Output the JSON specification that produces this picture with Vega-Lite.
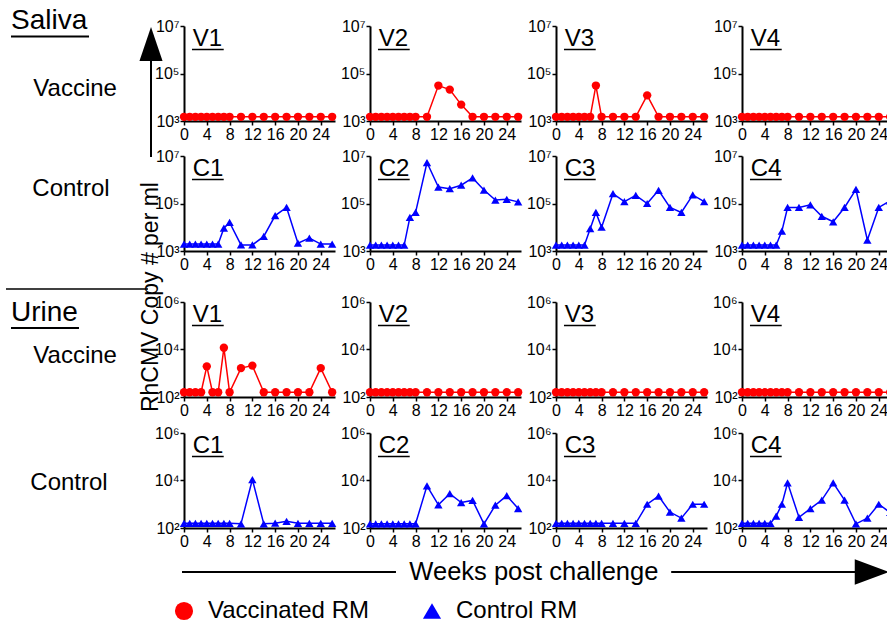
{
"$schema":"https://vega.github.io/schema/vega-lite/v6.json",
"padding":{"left":5,"top":6,"right":0,"bottom":0},
"background":"white",
"datasets":{"d":[
{"p":"SV1","s":"Vaccinated RM","w":0,"v":1500},{"p":"SV1","s":"Vaccinated RM","w":1,"v":1500},{"p":"SV1","s":"Vaccinated RM","w":2,"v":1500},{"p":"SV1","s":"Vaccinated RM","w":3,"v":1500},{"p":"SV1","s":"Vaccinated RM","w":4,"v":1500},{"p":"SV1","s":"Vaccinated RM","w":5,"v":1500},{"p":"SV1","s":"Vaccinated RM","w":6,"v":1500},{"p":"SV1","s":"Vaccinated RM","w":7,"v":1500},{"p":"SV1","s":"Vaccinated RM","w":8,"v":1500},{"p":"SV1","s":"Vaccinated RM","w":10,"v":1500},{"p":"SV1","s":"Vaccinated RM","w":12,"v":1500},{"p":"SV1","s":"Vaccinated RM","w":14,"v":1500},{"p":"SV1","s":"Vaccinated RM","w":16,"v":1500},{"p":"SV1","s":"Vaccinated RM","w":18,"v":1500},{"p":"SV1","s":"Vaccinated RM","w":20,"v":1500},{"p":"SV1","s":"Vaccinated RM","w":22,"v":1500},{"p":"SV1","s":"Vaccinated RM","w":24,"v":1500},{"p":"SV1","s":"Vaccinated RM","w":26,"v":1500},
{"p":"SV2","s":"Vaccinated RM","w":0,"v":1500},{"p":"SV2","s":"Vaccinated RM","w":1,"v":1500},{"p":"SV2","s":"Vaccinated RM","w":2,"v":1500},{"p":"SV2","s":"Vaccinated RM","w":3,"v":1500},{"p":"SV2","s":"Vaccinated RM","w":4,"v":1500},{"p":"SV2","s":"Vaccinated RM","w":5,"v":1500},{"p":"SV2","s":"Vaccinated RM","w":6,"v":1500},{"p":"SV2","s":"Vaccinated RM","w":7,"v":1500},{"p":"SV2","s":"Vaccinated RM","w":8,"v":1500},{"p":"SV2","s":"Vaccinated RM","w":10,"v":1500},{"p":"SV2","s":"Vaccinated RM","w":12,"v":31000},{"p":"SV2","s":"Vaccinated RM","w":14,"v":21000},{"p":"SV2","s":"Vaccinated RM","w":16,"v":4900},{"p":"SV2","s":"Vaccinated RM","w":18,"v":1500},{"p":"SV2","s":"Vaccinated RM","w":20,"v":1500},{"p":"SV2","s":"Vaccinated RM","w":22,"v":1500},{"p":"SV2","s":"Vaccinated RM","w":24,"v":1500},{"p":"SV2","s":"Vaccinated RM","w":26,"v":1500},
{"p":"SV3","s":"Vaccinated RM","w":0,"v":1500},{"p":"SV3","s":"Vaccinated RM","w":1,"v":1500},{"p":"SV3","s":"Vaccinated RM","w":2,"v":1500},{"p":"SV3","s":"Vaccinated RM","w":3,"v":1500},{"p":"SV3","s":"Vaccinated RM","w":4,"v":1500},{"p":"SV3","s":"Vaccinated RM","w":5,"v":1500},{"p":"SV3","s":"Vaccinated RM","w":6,"v":1500},{"p":"SV3","s":"Vaccinated RM","w":7,"v":31000},{"p":"SV3","s":"Vaccinated RM","w":8,"v":1500},{"p":"SV3","s":"Vaccinated RM","w":10,"v":1500},{"p":"SV3","s":"Vaccinated RM","w":12,"v":1500},{"p":"SV3","s":"Vaccinated RM","w":14,"v":1500},{"p":"SV3","s":"Vaccinated RM","w":16,"v":12000},{"p":"SV3","s":"Vaccinated RM","w":18,"v":1500},{"p":"SV3","s":"Vaccinated RM","w":20,"v":1500},{"p":"SV3","s":"Vaccinated RM","w":22,"v":1500},{"p":"SV3","s":"Vaccinated RM","w":24,"v":1500},{"p":"SV3","s":"Vaccinated RM","w":26,"v":1500},
{"p":"SV4","s":"Vaccinated RM","w":0,"v":1500},{"p":"SV4","s":"Vaccinated RM","w":1,"v":1500},{"p":"SV4","s":"Vaccinated RM","w":2,"v":1500},{"p":"SV4","s":"Vaccinated RM","w":3,"v":1500},{"p":"SV4","s":"Vaccinated RM","w":4,"v":1500},{"p":"SV4","s":"Vaccinated RM","w":5,"v":1500},{"p":"SV4","s":"Vaccinated RM","w":6,"v":1500},{"p":"SV4","s":"Vaccinated RM","w":7,"v":1500},{"p":"SV4","s":"Vaccinated RM","w":8,"v":1500},{"p":"SV4","s":"Vaccinated RM","w":10,"v":1500},{"p":"SV4","s":"Vaccinated RM","w":12,"v":1500},{"p":"SV4","s":"Vaccinated RM","w":14,"v":1500},{"p":"SV4","s":"Vaccinated RM","w":16,"v":1500},{"p":"SV4","s":"Vaccinated RM","w":18,"v":1500},{"p":"SV4","s":"Vaccinated RM","w":20,"v":1500},{"p":"SV4","s":"Vaccinated RM","w":22,"v":1500},{"p":"SV4","s":"Vaccinated RM","w":24,"v":1500},{"p":"SV4","s":"Vaccinated RM","w":26,"v":1500},
{"p":"SC1","s":"Control RM","w":0,"v":1950},{"p":"SC1","s":"Control RM","w":1,"v":1950},{"p":"SC1","s":"Control RM","w":2,"v":1950},{"p":"SC1","s":"Control RM","w":3,"v":1950},{"p":"SC1","s":"Control RM","w":4,"v":1950},{"p":"SC1","s":"Control RM","w":5,"v":1950},{"p":"SC1","s":"Control RM","w":6,"v":1950},{"p":"SC1","s":"Control RM","w":7,"v":9100},{"p":"SC1","s":"Control RM","w":8,"v":16000},{"p":"SC1","s":"Control RM","w":10,"v":1800},{"p":"SC1","s":"Control RM","w":12,"v":1800},{"p":"SC1","s":"Control RM","w":14,"v":4100},{"p":"SC1","s":"Control RM","w":16,"v":31000},{"p":"SC1","s":"Control RM","w":18,"v":68000},{"p":"SC1","s":"Control RM","w":20,"v":2150},{"p":"SC1","s":"Control RM","w":22,"v":3500},{"p":"SC1","s":"Control RM","w":24,"v":1950},{"p":"SC1","s":"Control RM","w":26,"v":1950},
{"p":"SC2","s":"Control RM","w":0,"v":1780},{"p":"SC2","s":"Control RM","w":1,"v":1780},{"p":"SC2","s":"Control RM","w":2,"v":1780},{"p":"SC2","s":"Control RM","w":3,"v":1780},{"p":"SC2","s":"Control RM","w":4,"v":1780},{"p":"SC2","s":"Control RM","w":5,"v":1780},{"p":"SC2","s":"Control RM","w":6,"v":1780},{"p":"SC2","s":"Control RM","w":7,"v":26000},{"p":"SC2","s":"Control RM","w":8,"v":42000},{"p":"SC2","s":"Control RM","w":10,"v":5300000},{"p":"SC2","s":"Control RM","w":12,"v":490000},{"p":"SC2","s":"Control RM","w":14,"v":420000},{"p":"SC2","s":"Control RM","w":16,"v":590000},{"p":"SC2","s":"Control RM","w":18,"v":1200000},{"p":"SC2","s":"Control RM","w":20,"v":370000},{"p":"SC2","s":"Control RM","w":22,"v":140000},{"p":"SC2","s":"Control RM","w":24,"v":150000},{"p":"SC2","s":"Control RM","w":26,"v":117000},
{"p":"SC3","s":"Control RM","w":0,"v":1780},{"p":"SC3","s":"Control RM","w":1,"v":1780},{"p":"SC3","s":"Control RM","w":2,"v":1780},{"p":"SC3","s":"Control RM","w":3,"v":1780},{"p":"SC3","s":"Control RM","w":4,"v":1780},{"p":"SC3","s":"Control RM","w":5,"v":1780},{"p":"SC3","s":"Control RM","w":6,"v":8700},{"p":"SC3","s":"Control RM","w":7,"v":42000},{"p":"SC3","s":"Control RM","w":8,"v":10000},{"p":"SC3","s":"Control RM","w":10,"v":260000},{"p":"SC3","s":"Control RM","w":12,"v":120000},{"p":"SC3","s":"Control RM","w":14,"v":220000},{"p":"SC3","s":"Control RM","w":16,"v":100000},{"p":"SC3","s":"Control RM","w":18,"v":360000},{"p":"SC3","s":"Control RM","w":20,"v":68000},{"p":"SC3","s":"Control RM","w":22,"v":42000},{"p":"SC3","s":"Control RM","w":24,"v":230000},{"p":"SC3","s":"Control RM","w":26,"v":120000},
{"p":"SC4","s":"Control RM","w":0,"v":1780},{"p":"SC4","s":"Control RM","w":1,"v":1780},{"p":"SC4","s":"Control RM","w":2,"v":1780},{"p":"SC4","s":"Control RM","w":3,"v":1780},{"p":"SC4","s":"Control RM","w":4,"v":1780},{"p":"SC4","s":"Control RM","w":5,"v":1780},{"p":"SC4","s":"Control RM","w":6,"v":1780},{"p":"SC4","s":"Control RM","w":7,"v":6900},{"p":"SC4","s":"Control RM","w":8,"v":68000},{"p":"SC4","s":"Control RM","w":10,"v":68000},{"p":"SC4","s":"Control RM","w":12,"v":88000},{"p":"SC4","s":"Control RM","w":14,"v":29000},{"p":"SC4","s":"Control RM","w":16,"v":17000},{"p":"SC4","s":"Control RM","w":18,"v":68000},{"p":"SC4","s":"Control RM","w":20,"v":390000},{"p":"SC4","s":"Control RM","w":22,"v":2900},{"p":"SC4","s":"Control RM","w":24,"v":68000},{"p":"SC4","s":"Control RM","w":26,"v":130000},
{"p":"UV1","s":"Vaccinated RM","w":0,"v":158},{"p":"UV1","s":"Vaccinated RM","w":1,"v":158},{"p":"UV1","s":"Vaccinated RM","w":2,"v":158},{"p":"UV1","s":"Vaccinated RM","w":3,"v":158},{"p":"UV1","s":"Vaccinated RM","w":4,"v":1950},{"p":"UV1","s":"Vaccinated RM","w":5,"v":158},{"p":"UV1","s":"Vaccinated RM","w":6,"v":158},{"p":"UV1","s":"Vaccinated RM","w":7,"v":11800},{"p":"UV1","s":"Vaccinated RM","w":8,"v":158},{"p":"UV1","s":"Vaccinated RM","w":10,"v":1650},{"p":"UV1","s":"Vaccinated RM","w":12,"v":2100},{"p":"UV1","s":"Vaccinated RM","w":14,"v":158},{"p":"UV1","s":"Vaccinated RM","w":16,"v":158},{"p":"UV1","s":"Vaccinated RM","w":18,"v":158},{"p":"UV1","s":"Vaccinated RM","w":20,"v":158},{"p":"UV1","s":"Vaccinated RM","w":22,"v":158},{"p":"UV1","s":"Vaccinated RM","w":24,"v":1650},{"p":"UV1","s":"Vaccinated RM","w":26,"v":158},
{"p":"UV2","s":"Vaccinated RM","w":0,"v":158},{"p":"UV2","s":"Vaccinated RM","w":1,"v":158},{"p":"UV2","s":"Vaccinated RM","w":2,"v":158},{"p":"UV2","s":"Vaccinated RM","w":3,"v":158},{"p":"UV2","s":"Vaccinated RM","w":4,"v":158},{"p":"UV2","s":"Vaccinated RM","w":5,"v":158},{"p":"UV2","s":"Vaccinated RM","w":6,"v":158},{"p":"UV2","s":"Vaccinated RM","w":7,"v":158},{"p":"UV2","s":"Vaccinated RM","w":8,"v":158},{"p":"UV2","s":"Vaccinated RM","w":10,"v":158},{"p":"UV2","s":"Vaccinated RM","w":12,"v":158},{"p":"UV2","s":"Vaccinated RM","w":14,"v":158},{"p":"UV2","s":"Vaccinated RM","w":16,"v":158},{"p":"UV2","s":"Vaccinated RM","w":18,"v":158},{"p":"UV2","s":"Vaccinated RM","w":20,"v":158},{"p":"UV2","s":"Vaccinated RM","w":22,"v":158},{"p":"UV2","s":"Vaccinated RM","w":24,"v":158},{"p":"UV2","s":"Vaccinated RM","w":26,"v":158},
{"p":"UV3","s":"Vaccinated RM","w":0,"v":158},{"p":"UV3","s":"Vaccinated RM","w":1,"v":158},{"p":"UV3","s":"Vaccinated RM","w":2,"v":158},{"p":"UV3","s":"Vaccinated RM","w":3,"v":158},{"p":"UV3","s":"Vaccinated RM","w":4,"v":158},{"p":"UV3","s":"Vaccinated RM","w":5,"v":158},{"p":"UV3","s":"Vaccinated RM","w":6,"v":158},{"p":"UV3","s":"Vaccinated RM","w":7,"v":158},{"p":"UV3","s":"Vaccinated RM","w":8,"v":158},{"p":"UV3","s":"Vaccinated RM","w":10,"v":158},{"p":"UV3","s":"Vaccinated RM","w":12,"v":158},{"p":"UV3","s":"Vaccinated RM","w":14,"v":158},{"p":"UV3","s":"Vaccinated RM","w":16,"v":158},{"p":"UV3","s":"Vaccinated RM","w":18,"v":158},{"p":"UV3","s":"Vaccinated RM","w":20,"v":158},{"p":"UV3","s":"Vaccinated RM","w":22,"v":158},{"p":"UV3","s":"Vaccinated RM","w":24,"v":158},{"p":"UV3","s":"Vaccinated RM","w":26,"v":158},
{"p":"UV4","s":"Vaccinated RM","w":0,"v":158},{"p":"UV4","s":"Vaccinated RM","w":1,"v":158},{"p":"UV4","s":"Vaccinated RM","w":2,"v":158},{"p":"UV4","s":"Vaccinated RM","w":3,"v":158},{"p":"UV4","s":"Vaccinated RM","w":4,"v":158},{"p":"UV4","s":"Vaccinated RM","w":5,"v":158},{"p":"UV4","s":"Vaccinated RM","w":6,"v":158},{"p":"UV4","s":"Vaccinated RM","w":7,"v":158},{"p":"UV4","s":"Vaccinated RM","w":8,"v":158},{"p":"UV4","s":"Vaccinated RM","w":10,"v":158},{"p":"UV4","s":"Vaccinated RM","w":12,"v":158},{"p":"UV4","s":"Vaccinated RM","w":14,"v":158},{"p":"UV4","s":"Vaccinated RM","w":16,"v":158},{"p":"UV4","s":"Vaccinated RM","w":18,"v":158},{"p":"UV4","s":"Vaccinated RM","w":20,"v":158},{"p":"UV4","s":"Vaccinated RM","w":22,"v":158},{"p":"UV4","s":"Vaccinated RM","w":24,"v":158},{"p":"UV4","s":"Vaccinated RM","w":26,"v":158},
{"p":"UC1","s":"Control RM","w":0,"v":158},{"p":"UC1","s":"Control RM","w":1,"v":158},{"p":"UC1","s":"Control RM","w":2,"v":158},{"p":"UC1","s":"Control RM","w":3,"v":158},{"p":"UC1","s":"Control RM","w":4,"v":158},{"p":"UC1","s":"Control RM","w":5,"v":158},{"p":"UC1","s":"Control RM","w":6,"v":158},{"p":"UC1","s":"Control RM","w":7,"v":158},{"p":"UC1","s":"Control RM","w":8,"v":158},{"p":"UC1","s":"Control RM","w":10,"v":150},{"p":"UC1","s":"Control RM","w":12,"v":11000},{"p":"UC1","s":"Control RM","w":14,"v":150},{"p":"UC1","s":"Control RM","w":16,"v":160},{"p":"UC1","s":"Control RM","w":18,"v":190},{"p":"UC1","s":"Control RM","w":20,"v":158},{"p":"UC1","s":"Control RM","w":22,"v":158},{"p":"UC1","s":"Control RM","w":24,"v":158},{"p":"UC1","s":"Control RM","w":26,"v":158},
{"p":"UC2","s":"Control RM","w":0,"v":150},{"p":"UC2","s":"Control RM","w":1,"v":150},{"p":"UC2","s":"Control RM","w":2,"v":150},{"p":"UC2","s":"Control RM","w":3,"v":150},{"p":"UC2","s":"Control RM","w":4,"v":150},{"p":"UC2","s":"Control RM","w":5,"v":150},{"p":"UC2","s":"Control RM","w":6,"v":150},{"p":"UC2","s":"Control RM","w":7,"v":150},{"p":"UC2","s":"Control RM","w":8,"v":150},{"p":"UC2","s":"Control RM","w":10,"v":6000},{"p":"UC2","s":"Control RM","w":12,"v":940},{"p":"UC2","s":"Control RM","w":14,"v":2800},{"p":"UC2","s":"Control RM","w":16,"v":1180},{"p":"UC2","s":"Control RM","w":18,"v":1450},{"p":"UC2","s":"Control RM","w":20,"v":150},{"p":"UC2","s":"Control RM","w":22,"v":910},{"p":"UC2","s":"Control RM","w":24,"v":2300},{"p":"UC2","s":"Control RM","w":26,"v":660},
{"p":"UC3","s":"Control RM","w":0,"v":158},{"p":"UC3","s":"Control RM","w":1,"v":158},{"p":"UC3","s":"Control RM","w":2,"v":158},{"p":"UC3","s":"Control RM","w":3,"v":158},{"p":"UC3","s":"Control RM","w":4,"v":158},{"p":"UC3","s":"Control RM","w":5,"v":158},{"p":"UC3","s":"Control RM","w":6,"v":158},{"p":"UC3","s":"Control RM","w":7,"v":158},{"p":"UC3","s":"Control RM","w":8,"v":158},{"p":"UC3","s":"Control RM","w":10,"v":158},{"p":"UC3","s":"Control RM","w":12,"v":158},{"p":"UC3","s":"Control RM","w":14,"v":158},{"p":"UC3","s":"Control RM","w":16,"v":1000},{"p":"UC3","s":"Control RM","w":18,"v":2200},{"p":"UC3","s":"Control RM","w":20,"v":470},{"p":"UC3","s":"Control RM","w":22,"v":260},{"p":"UC3","s":"Control RM","w":24,"v":1000},{"p":"UC3","s":"Control RM","w":26,"v":1000},
{"p":"UC4","s":"Control RM","w":0,"v":158},{"p":"UC4","s":"Control RM","w":1,"v":158},{"p":"UC4","s":"Control RM","w":2,"v":158},{"p":"UC4","s":"Control RM","w":3,"v":158},{"p":"UC4","s":"Control RM","w":4,"v":158},{"p":"UC4","s":"Control RM","w":5,"v":158},{"p":"UC4","s":"Control RM","w":6,"v":320},{"p":"UC4","s":"Control RM","w":7,"v":1000},{"p":"UC4","s":"Control RM","w":8,"v":8000},{"p":"UC4","s":"Control RM","w":10,"v":280},{"p":"UC4","s":"Control RM","w":12,"v":650},{"p":"UC4","s":"Control RM","w":14,"v":1500},{"p":"UC4","s":"Control RM","w":16,"v":8000},{"p":"UC4","s":"Control RM","w":18,"v":1500},{"p":"UC4","s":"Control RM","w":20,"v":150},{"p":"UC4","s":"Control RM","w":22,"v":260},{"p":"UC4","s":"Control RM","w":24,"v":1000},{"p":"UC4","s":"Control RM","w":26,"v":450}
]},
"columns":4,
"spacing":{"row":35,"column":35},
"bounds":"flush",
"concat":[
{"width":151,"height":95,
 "layer":[
  {"data":{"name":"d"},"transform":[{"filter":"datum.p=='SV1'"}],"mark":{"type":"line","strokeWidth":1.5},"encoding":{"x":{"field":"w","type":"quantitative","title":null,"scale":{"domain":[0,26.5],"nice":false,"zero":false},"axis":{"values":[0,4,8,12,16,20,24],"tickCount":20,"labelOverlap":false}},"y":{"field":"v","type":"quantitative","title":null,"scale":{"type":"log","domain":[1000,10000000],"nice":false},"axis":{"values":[1000,100000,10000000],"tickCount":20,"labelOverlap":false,"labelExpr":"datum.value<5000?'10³':datum.value<5000000?'10⁵':'10⁷'"}},"color":{"field":"s","type":"nominal","title":null,"scale":{"domain":["Vaccinated RM","Control RM"],"range":["#ff0000","#0000ff"]}}}},
  {"data":{"name":"d"},"transform":[{"filter":"datum.p=='SV1'"}],"mark":{"type":"point","filled":true,"size":70,"opacity":1},"encoding":{"x":{"field":"w","type":"quantitative","title":null,"scale":{"domain":[0,26.5],"nice":false,"zero":false},"axis":{"values":[0,4,8,12,16,20,24],"tickCount":20,"labelOverlap":false}},"y":{"field":"v","type":"quantitative","title":null,"scale":{"type":"log","domain":[1000,10000000],"nice":false},"axis":{"values":[1000,100000,10000000],"tickCount":20,"labelOverlap":false,"labelExpr":"datum.value<5000?'10³':datum.value<5000000?'10⁵':'10⁷'"}},"color":{"field":"s","type":"nominal","title":null,"scale":{"domain":["Vaccinated RM","Control RM"],"range":["#ff0000","#0000ff"]}},"shape":{"field":"s","type":"nominal","title":null,"scale":{"domain":["Vaccinated RM","Control RM"],"range":["circle","triangle-up"]}}}},
  {"data":{"values":[{"a":1}]},"mark":{"type":"text","text":"V1","fontSize":24,"align":"left","baseline":"alphabetic"},"encoding":{"x":{"datum":1.53},"y":{"datum":1440000}}},
  {"data":{"values":[{"a":1}]},"mark":{"type":"rule","strokeWidth":1.5},"encoding":{"x":{"datum":1.4},"x2":{"datum":6.97},"y":{"datum":1020000}}},
  {"data":{"values":[{"a":1}]},"mark":{"type":"text","text":"Saliva","fontSize":28,"align":"left","baseline":"alphabetic"},"encoding":{"x":{"datum":-30.36},"y":{"datum":7480000}}},
  {"data":{"values":[{"a":1}]},"mark":{"type":"rule","strokeWidth":2},"encoding":{"x":{"datum":-30.36},"x2":{"datum":-16.67},"y":{"datum":3610000}}},
  {"data":{"values":[{"a":1}]},"mark":{"type":"text","text":"Vaccine","fontSize":24,"align":"center","baseline":"middle"},"encoding":{"x":{"datum":-19.1},"y":{"datum":22200}}},
  {"data":{"values":[{"a":1}]},"mark":{"type":"point","shape":"M0,-1L0.68,1L-0.68,1Z","filled":true,"color":"#000","opacity":1,"size":1156},"encoding":{"x":{"datum":-5.79},"y":{"datum":1750000}}},
  {"data":{"values":[{"a":1}]},"mark":{"type":"rule","strokeWidth":2},"encoding":{"x":{"datum":-5.79},"y":{"datum":495000},"y2":{"datum":30.5}}}
 ]},
{"width":151,"height":95,
 "layer":[
  {"data":{"name":"d"},"transform":[{"filter":"datum.p=='SV2'"}],"mark":{"type":"line","strokeWidth":1.5},"encoding":{"x":{"field":"w","type":"quantitative","title":null,"scale":{"domain":[0,26.5],"nice":false,"zero":false},"axis":{"values":[0,4,8,12,16,20,24],"tickCount":20,"labelOverlap":false}},"y":{"field":"v","type":"quantitative","title":null,"scale":{"type":"log","domain":[1000,10000000],"nice":false},"axis":{"values":[1000,100000,10000000],"tickCount":20,"labelOverlap":false,"labelExpr":"datum.value<5000?'10³':datum.value<5000000?'10⁵':'10⁷'"}},"color":{"field":"s","type":"nominal","title":null,"scale":{"domain":["Vaccinated RM","Control RM"],"range":["#ff0000","#0000ff"]}}}},
  {"data":{"name":"d"},"transform":[{"filter":"datum.p=='SV2'"}],"mark":{"type":"point","filled":true,"size":70,"opacity":1},"encoding":{"x":{"field":"w","type":"quantitative","title":null,"scale":{"domain":[0,26.5],"nice":false,"zero":false},"axis":{"values":[0,4,8,12,16,20,24],"tickCount":20,"labelOverlap":false}},"y":{"field":"v","type":"quantitative","title":null,"scale":{"type":"log","domain":[1000,10000000],"nice":false},"axis":{"values":[1000,100000,10000000],"tickCount":20,"labelOverlap":false,"labelExpr":"datum.value<5000?'10³':datum.value<5000000?'10⁵':'10⁷'"}},"color":{"field":"s","type":"nominal","title":null,"scale":{"domain":["Vaccinated RM","Control RM"],"range":["#ff0000","#0000ff"]}},"shape":{"field":"s","type":"nominal","title":null,"scale":{"domain":["Vaccinated RM","Control RM"],"range":["circle","triangle-up"]}}}},
  {"data":{"values":[{"a":1}]},"mark":{"type":"text","text":"V2","fontSize":24,"align":"left","baseline":"alphabetic"},"encoding":{"x":{"datum":1.53},"y":{"datum":1440000}}},
  {"data":{"values":[{"a":1}]},"mark":{"type":"rule","strokeWidth":1.5},"encoding":{"x":{"datum":1.4},"x2":{"datum":6.97},"y":{"datum":1020000}}}
 ]},
{"width":151,"height":95,
 "layer":[
  {"data":{"name":"d"},"transform":[{"filter":"datum.p=='SV3'"}],"mark":{"type":"line","strokeWidth":1.5},"encoding":{"x":{"field":"w","type":"quantitative","title":null,"scale":{"domain":[0,26.5],"nice":false,"zero":false},"axis":{"values":[0,4,8,12,16,20,24],"tickCount":20,"labelOverlap":false}},"y":{"field":"v","type":"quantitative","title":null,"scale":{"type":"log","domain":[1000,10000000],"nice":false},"axis":{"values":[1000,100000,10000000],"tickCount":20,"labelOverlap":false,"labelExpr":"datum.value<5000?'10³':datum.value<5000000?'10⁵':'10⁷'"}},"color":{"field":"s","type":"nominal","title":null,"scale":{"domain":["Vaccinated RM","Control RM"],"range":["#ff0000","#0000ff"]}}}},
  {"data":{"name":"d"},"transform":[{"filter":"datum.p=='SV3'"}],"mark":{"type":"point","filled":true,"size":70,"opacity":1},"encoding":{"x":{"field":"w","type":"quantitative","title":null,"scale":{"domain":[0,26.5],"nice":false,"zero":false},"axis":{"values":[0,4,8,12,16,20,24],"tickCount":20,"labelOverlap":false}},"y":{"field":"v","type":"quantitative","title":null,"scale":{"type":"log","domain":[1000,10000000],"nice":false},"axis":{"values":[1000,100000,10000000],"tickCount":20,"labelOverlap":false,"labelExpr":"datum.value<5000?'10³':datum.value<5000000?'10⁵':'10⁷'"}},"color":{"field":"s","type":"nominal","title":null,"scale":{"domain":["Vaccinated RM","Control RM"],"range":["#ff0000","#0000ff"]}},"shape":{"field":"s","type":"nominal","title":null,"scale":{"domain":["Vaccinated RM","Control RM"],"range":["circle","triangle-up"]}}}},
  {"data":{"values":[{"a":1}]},"mark":{"type":"text","text":"V3","fontSize":24,"align":"left","baseline":"alphabetic"},"encoding":{"x":{"datum":1.53},"y":{"datum":1440000}}},
  {"data":{"values":[{"a":1}]},"mark":{"type":"rule","strokeWidth":1.5},"encoding":{"x":{"datum":1.4},"x2":{"datum":6.97},"y":{"datum":1020000}}}
 ]},
{"width":151,"height":95,
 "layer":[
  {"data":{"name":"d"},"transform":[{"filter":"datum.p=='SV4'"}],"mark":{"type":"line","strokeWidth":1.5},"encoding":{"x":{"field":"w","type":"quantitative","title":null,"scale":{"domain":[0,26.5],"nice":false,"zero":false},"axis":{"values":[0,4,8,12,16,20,24],"tickCount":20,"labelOverlap":false}},"y":{"field":"v","type":"quantitative","title":null,"scale":{"type":"log","domain":[1000,10000000],"nice":false},"axis":{"values":[1000,100000,10000000],"tickCount":20,"labelOverlap":false,"labelExpr":"datum.value<5000?'10³':datum.value<5000000?'10⁵':'10⁷'"}},"color":{"field":"s","type":"nominal","title":null,"scale":{"domain":["Vaccinated RM","Control RM"],"range":["#ff0000","#0000ff"]}}}},
  {"data":{"name":"d"},"transform":[{"filter":"datum.p=='SV4'"}],"mark":{"type":"point","filled":true,"size":70,"opacity":1},"encoding":{"x":{"field":"w","type":"quantitative","title":null,"scale":{"domain":[0,26.5],"nice":false,"zero":false},"axis":{"values":[0,4,8,12,16,20,24],"tickCount":20,"labelOverlap":false}},"y":{"field":"v","type":"quantitative","title":null,"scale":{"type":"log","domain":[1000,10000000],"nice":false},"axis":{"values":[1000,100000,10000000],"tickCount":20,"labelOverlap":false,"labelExpr":"datum.value<5000?'10³':datum.value<5000000?'10⁵':'10⁷'"}},"color":{"field":"s","type":"nominal","title":null,"scale":{"domain":["Vaccinated RM","Control RM"],"range":["#ff0000","#0000ff"]}},"shape":{"field":"s","type":"nominal","title":null,"scale":{"domain":["Vaccinated RM","Control RM"],"range":["circle","triangle-up"]}}}},
  {"data":{"values":[{"a":1}]},"mark":{"type":"text","text":"V4","fontSize":24,"align":"left","baseline":"alphabetic"},"encoding":{"x":{"datum":1.53},"y":{"datum":1440000}}},
  {"data":{"values":[{"a":1}]},"mark":{"type":"rule","strokeWidth":1.5},"encoding":{"x":{"datum":1.4},"x2":{"datum":6.97},"y":{"datum":1020000}}}
 ]},
{"width":151,"height":95,
 "layer":[
  {"data":{"name":"d"},"transform":[{"filter":"datum.p=='SC1'"}],"mark":{"type":"line","strokeWidth":1.5},"encoding":{"x":{"field":"w","type":"quantitative","title":null,"scale":{"domain":[0,26.5],"nice":false,"zero":false},"axis":{"values":[0,4,8,12,16,20,24],"tickCount":20,"labelOverlap":false}},"y":{"field":"v","type":"quantitative","title":null,"scale":{"type":"log","domain":[1000,10000000],"nice":false},"axis":{"values":[1000,100000,10000000],"tickCount":20,"labelOverlap":false,"labelExpr":"datum.value<5000?'10³':datum.value<5000000?'10⁵':'10⁷'"}},"color":{"field":"s","type":"nominal","title":null,"scale":{"domain":["Vaccinated RM","Control RM"],"range":["#ff0000","#0000ff"]}}}},
  {"data":{"name":"d"},"transform":[{"filter":"datum.p=='SC1'"}],"mark":{"type":"point","filled":true,"size":70,"opacity":1},"encoding":{"x":{"field":"w","type":"quantitative","title":null,"scale":{"domain":[0,26.5],"nice":false,"zero":false},"axis":{"values":[0,4,8,12,16,20,24],"tickCount":20,"labelOverlap":false}},"y":{"field":"v","type":"quantitative","title":null,"scale":{"type":"log","domain":[1000,10000000],"nice":false},"axis":{"values":[1000,100000,10000000],"tickCount":20,"labelOverlap":false,"labelExpr":"datum.value<5000?'10³':datum.value<5000000?'10⁵':'10⁷'"}},"color":{"field":"s","type":"nominal","title":null,"scale":{"domain":["Vaccinated RM","Control RM"],"range":["#ff0000","#0000ff"]}},"shape":{"field":"s","type":"nominal","title":null,"scale":{"domain":["Vaccinated RM","Control RM"],"range":["circle","triangle-up"]}}}},
  {"data":{"values":[{"a":1}]},"mark":{"type":"text","text":"C1","fontSize":24,"align":"left","baseline":"alphabetic"},"encoding":{"x":{"datum":1.53},"y":{"datum":1440000}}},
  {"data":{"values":[{"a":1}]},"mark":{"type":"rule","strokeWidth":1.5},"encoding":{"x":{"datum":1.4},"x2":{"datum":6.97},"y":{"datum":1020000}}},
  {"data":{"values":[{"a":1}]},"mark":{"type":"text","text":"Control","fontSize":24,"align":"center","baseline":"middle"},"encoding":{"x":{"datum":-19.83},"y":{"datum":408000}}},
  {"data":{"values":[{"a":1}]},"mark":{"type":"text","text":"RhCMV Copy # per ml","fontSize":23,"align":"center","baseline":"middle","angle":270},"encoding":{"x":{"datum":-5.79},"y":{"datum":11.5}}}
 ]},
{"width":151,"height":95,
 "layer":[
  {"data":{"name":"d"},"transform":[{"filter":"datum.p=='SC2'"}],"mark":{"type":"line","strokeWidth":1.5},"encoding":{"x":{"field":"w","type":"quantitative","title":null,"scale":{"domain":[0,26.5],"nice":false,"zero":false},"axis":{"values":[0,4,8,12,16,20,24],"tickCount":20,"labelOverlap":false}},"y":{"field":"v","type":"quantitative","title":null,"scale":{"type":"log","domain":[1000,10000000],"nice":false},"axis":{"values":[1000,100000,10000000],"tickCount":20,"labelOverlap":false,"labelExpr":"datum.value<5000?'10³':datum.value<5000000?'10⁵':'10⁷'"}},"color":{"field":"s","type":"nominal","title":null,"scale":{"domain":["Vaccinated RM","Control RM"],"range":["#ff0000","#0000ff"]}}}},
  {"data":{"name":"d"},"transform":[{"filter":"datum.p=='SC2'"}],"mark":{"type":"point","filled":true,"size":70,"opacity":1},"encoding":{"x":{"field":"w","type":"quantitative","title":null,"scale":{"domain":[0,26.5],"nice":false,"zero":false},"axis":{"values":[0,4,8,12,16,20,24],"tickCount":20,"labelOverlap":false}},"y":{"field":"v","type":"quantitative","title":null,"scale":{"type":"log","domain":[1000,10000000],"nice":false},"axis":{"values":[1000,100000,10000000],"tickCount":20,"labelOverlap":false,"labelExpr":"datum.value<5000?'10³':datum.value<5000000?'10⁵':'10⁷'"}},"color":{"field":"s","type":"nominal","title":null,"scale":{"domain":["Vaccinated RM","Control RM"],"range":["#ff0000","#0000ff"]}},"shape":{"field":"s","type":"nominal","title":null,"scale":{"domain":["Vaccinated RM","Control RM"],"range":["circle","triangle-up"]}}}},
  {"data":{"values":[{"a":1}]},"mark":{"type":"text","text":"C2","fontSize":24,"align":"left","baseline":"alphabetic"},"encoding":{"x":{"datum":1.53},"y":{"datum":1440000}}},
  {"data":{"values":[{"a":1}]},"mark":{"type":"rule","strokeWidth":1.5},"encoding":{"x":{"datum":1.4},"x2":{"datum":6.97},"y":{"datum":1020000}}}
 ]},
{"width":151,"height":95,
 "layer":[
  {"data":{"name":"d"},"transform":[{"filter":"datum.p=='SC3'"}],"mark":{"type":"line","strokeWidth":1.5},"encoding":{"x":{"field":"w","type":"quantitative","title":null,"scale":{"domain":[0,26.5],"nice":false,"zero":false},"axis":{"values":[0,4,8,12,16,20,24],"tickCount":20,"labelOverlap":false}},"y":{"field":"v","type":"quantitative","title":null,"scale":{"type":"log","domain":[1000,10000000],"nice":false},"axis":{"values":[1000,100000,10000000],"tickCount":20,"labelOverlap":false,"labelExpr":"datum.value<5000?'10³':datum.value<5000000?'10⁵':'10⁷'"}},"color":{"field":"s","type":"nominal","title":null,"scale":{"domain":["Vaccinated RM","Control RM"],"range":["#ff0000","#0000ff"]}}}},
  {"data":{"name":"d"},"transform":[{"filter":"datum.p=='SC3'"}],"mark":{"type":"point","filled":true,"size":70,"opacity":1},"encoding":{"x":{"field":"w","type":"quantitative","title":null,"scale":{"domain":[0,26.5],"nice":false,"zero":false},"axis":{"values":[0,4,8,12,16,20,24],"tickCount":20,"labelOverlap":false}},"y":{"field":"v","type":"quantitative","title":null,"scale":{"type":"log","domain":[1000,10000000],"nice":false},"axis":{"values":[1000,100000,10000000],"tickCount":20,"labelOverlap":false,"labelExpr":"datum.value<5000?'10³':datum.value<5000000?'10⁵':'10⁷'"}},"color":{"field":"s","type":"nominal","title":null,"scale":{"domain":["Vaccinated RM","Control RM"],"range":["#ff0000","#0000ff"]}},"shape":{"field":"s","type":"nominal","title":null,"scale":{"domain":["Vaccinated RM","Control RM"],"range":["circle","triangle-up"]}}}},
  {"data":{"values":[{"a":1}]},"mark":{"type":"text","text":"C3","fontSize":24,"align":"left","baseline":"alphabetic"},"encoding":{"x":{"datum":1.53},"y":{"datum":1440000}}},
  {"data":{"values":[{"a":1}]},"mark":{"type":"rule","strokeWidth":1.5},"encoding":{"x":{"datum":1.4},"x2":{"datum":6.97},"y":{"datum":1020000}}}
 ]},
{"width":151,"height":95,
 "layer":[
  {"data":{"name":"d"},"transform":[{"filter":"datum.p=='SC4'"}],"mark":{"type":"line","strokeWidth":1.5},"encoding":{"x":{"field":"w","type":"quantitative","title":null,"scale":{"domain":[0,26.5],"nice":false,"zero":false},"axis":{"values":[0,4,8,12,16,20,24],"tickCount":20,"labelOverlap":false}},"y":{"field":"v","type":"quantitative","title":null,"scale":{"type":"log","domain":[1000,10000000],"nice":false},"axis":{"values":[1000,100000,10000000],"tickCount":20,"labelOverlap":false,"labelExpr":"datum.value<5000?'10³':datum.value<5000000?'10⁵':'10⁷'"}},"color":{"field":"s","type":"nominal","title":null,"scale":{"domain":["Vaccinated RM","Control RM"],"range":["#ff0000","#0000ff"]}}}},
  {"data":{"name":"d"},"transform":[{"filter":"datum.p=='SC4'"}],"mark":{"type":"point","filled":true,"size":70,"opacity":1},"encoding":{"x":{"field":"w","type":"quantitative","title":null,"scale":{"domain":[0,26.5],"nice":false,"zero":false},"axis":{"values":[0,4,8,12,16,20,24],"tickCount":20,"labelOverlap":false}},"y":{"field":"v","type":"quantitative","title":null,"scale":{"type":"log","domain":[1000,10000000],"nice":false},"axis":{"values":[1000,100000,10000000],"tickCount":20,"labelOverlap":false,"labelExpr":"datum.value<5000?'10³':datum.value<5000000?'10⁵':'10⁷'"}},"color":{"field":"s","type":"nominal","title":null,"scale":{"domain":["Vaccinated RM","Control RM"],"range":["#ff0000","#0000ff"]}},"shape":{"field":"s","type":"nominal","title":null,"scale":{"domain":["Vaccinated RM","Control RM"],"range":["circle","triangle-up"]}}}},
  {"data":{"values":[{"a":1}]},"mark":{"type":"text","text":"C4","fontSize":24,"align":"left","baseline":"alphabetic"},"encoding":{"x":{"datum":1.53},"y":{"datum":1440000}}},
  {"data":{"values":[{"a":1}]},"mark":{"type":"rule","strokeWidth":1.5},"encoding":{"x":{"datum":1.4},"x2":{"datum":6.97},"y":{"datum":1020000}}}
 ]},
{"width":151,"height":111,
 "layer":[
  {"data":{"name":"d"},"transform":[{"filter":"datum.p=='UV1'"}],"mark":{"type":"line","strokeWidth":1.5},"encoding":{"x":{"field":"w","type":"quantitative","title":null,"scale":{"domain":[0,26.5],"nice":false,"zero":false},"axis":{"values":[0,4,8,12,16,20,24],"tickCount":20,"labelOverlap":false}},"y":{"field":"v","type":"quantitative","title":null,"scale":{"type":"log","domain":[100,1000000],"nice":false,"range":[111,16]},"axis":{"values":[100,10000,1000000],"tickCount":20,"labelOverlap":false,"labelExpr":"datum.value<500?'10²':datum.value<500000?'10⁴':'10⁶'"}},"color":{"field":"s","type":"nominal","title":null,"scale":{"domain":["Vaccinated RM","Control RM"],"range":["#ff0000","#0000ff"]}}}},
  {"data":{"name":"d"},"transform":[{"filter":"datum.p=='UV1'"}],"mark":{"type":"point","filled":true,"size":70,"opacity":1},"encoding":{"x":{"field":"w","type":"quantitative","title":null,"scale":{"domain":[0,26.5],"nice":false,"zero":false},"axis":{"values":[0,4,8,12,16,20,24],"tickCount":20,"labelOverlap":false}},"y":{"field":"v","type":"quantitative","title":null,"scale":{"type":"log","domain":[100,1000000],"nice":false,"range":[111,16]},"axis":{"values":[100,10000,1000000],"tickCount":20,"labelOverlap":false,"labelExpr":"datum.value<500?'10²':datum.value<500000?'10⁴':'10⁶'"}},"color":{"field":"s","type":"nominal","title":null,"scale":{"domain":["Vaccinated RM","Control RM"],"range":["#ff0000","#0000ff"]}},"shape":{"field":"s","type":"nominal","title":null,"scale":{"domain":["Vaccinated RM","Control RM"],"range":["circle","triangle-up"]}}}},
  {"data":{"values":[{"a":1}]},"mark":{"type":"text","text":"V1","fontSize":24,"align":"left","baseline":"alphabetic"},"encoding":{"x":{"datum":1.53},"y":{"datum":144000}}},
  {"data":{"values":[{"a":1}]},"mark":{"type":"rule","strokeWidth":1.5},"encoding":{"x":{"datum":1.4},"x2":{"datum":6.97},"y":{"datum":102000}}},
  {"data":{"values":[{"a":1}]},"mark":{"type":"rule","strokeWidth":1.5},"encoding":{"x":{"datum":-31.24},"x2":{"datum":-6.32},"y":{"datum":3530000}}},
  {"data":{"values":[{"a":1}]},"mark":{"type":"text","text":"Urine","fontSize":28,"align":"left","baseline":"alphabetic"},"encoding":{"x":{"datum":-30.36},"y":{"datum":158500}}},
  {"data":{"values":[{"a":1}]},"mark":{"type":"rule","strokeWidth":2},"encoding":{"x":{"datum":-30.36},"x2":{"datum":-18.43},"y":{"datum":80400}}},
  {"data":{"values":[{"a":1}]},"mark":{"type":"text","text":"Vaccine","fontSize":24,"align":"center","baseline":"middle"},"encoding":{"x":{"datum":-19.1},"y":{"datum":5320}}}
 ]},
{"width":151,"height":111,
 "layer":[
  {"data":{"name":"d"},"transform":[{"filter":"datum.p=='UV2'"}],"mark":{"type":"line","strokeWidth":1.5},"encoding":{"x":{"field":"w","type":"quantitative","title":null,"scale":{"domain":[0,26.5],"nice":false,"zero":false},"axis":{"values":[0,4,8,12,16,20,24],"tickCount":20,"labelOverlap":false}},"y":{"field":"v","type":"quantitative","title":null,"scale":{"type":"log","domain":[100,1000000],"nice":false,"range":[111,16]},"axis":{"values":[100,10000,1000000],"tickCount":20,"labelOverlap":false,"labelExpr":"datum.value<500?'10²':datum.value<500000?'10⁴':'10⁶'"}},"color":{"field":"s","type":"nominal","title":null,"scale":{"domain":["Vaccinated RM","Control RM"],"range":["#ff0000","#0000ff"]}}}},
  {"data":{"name":"d"},"transform":[{"filter":"datum.p=='UV2'"}],"mark":{"type":"point","filled":true,"size":70,"opacity":1},"encoding":{"x":{"field":"w","type":"quantitative","title":null,"scale":{"domain":[0,26.5],"nice":false,"zero":false},"axis":{"values":[0,4,8,12,16,20,24],"tickCount":20,"labelOverlap":false}},"y":{"field":"v","type":"quantitative","title":null,"scale":{"type":"log","domain":[100,1000000],"nice":false,"range":[111,16]},"axis":{"values":[100,10000,1000000],"tickCount":20,"labelOverlap":false,"labelExpr":"datum.value<500?'10²':datum.value<500000?'10⁴':'10⁶'"}},"color":{"field":"s","type":"nominal","title":null,"scale":{"domain":["Vaccinated RM","Control RM"],"range":["#ff0000","#0000ff"]}},"shape":{"field":"s","type":"nominal","title":null,"scale":{"domain":["Vaccinated RM","Control RM"],"range":["circle","triangle-up"]}}}},
  {"data":{"values":[{"a":1}]},"mark":{"type":"text","text":"V2","fontSize":24,"align":"left","baseline":"alphabetic"},"encoding":{"x":{"datum":1.53},"y":{"datum":144000}}},
  {"data":{"values":[{"a":1}]},"mark":{"type":"rule","strokeWidth":1.5},"encoding":{"x":{"datum":1.4},"x2":{"datum":6.97},"y":{"datum":102000}}}
 ]},
{"width":151,"height":111,
 "layer":[
  {"data":{"name":"d"},"transform":[{"filter":"datum.p=='UV3'"}],"mark":{"type":"line","strokeWidth":1.5},"encoding":{"x":{"field":"w","type":"quantitative","title":null,"scale":{"domain":[0,26.5],"nice":false,"zero":false},"axis":{"values":[0,4,8,12,16,20,24],"tickCount":20,"labelOverlap":false}},"y":{"field":"v","type":"quantitative","title":null,"scale":{"type":"log","domain":[100,1000000],"nice":false,"range":[111,16]},"axis":{"values":[100,10000,1000000],"tickCount":20,"labelOverlap":false,"labelExpr":"datum.value<500?'10²':datum.value<500000?'10⁴':'10⁶'"}},"color":{"field":"s","type":"nominal","title":null,"scale":{"domain":["Vaccinated RM","Control RM"],"range":["#ff0000","#0000ff"]}}}},
  {"data":{"name":"d"},"transform":[{"filter":"datum.p=='UV3'"}],"mark":{"type":"point","filled":true,"size":70,"opacity":1},"encoding":{"x":{"field":"w","type":"quantitative","title":null,"scale":{"domain":[0,26.5],"nice":false,"zero":false},"axis":{"values":[0,4,8,12,16,20,24],"tickCount":20,"labelOverlap":false}},"y":{"field":"v","type":"quantitative","title":null,"scale":{"type":"log","domain":[100,1000000],"nice":false,"range":[111,16]},"axis":{"values":[100,10000,1000000],"tickCount":20,"labelOverlap":false,"labelExpr":"datum.value<500?'10²':datum.value<500000?'10⁴':'10⁶'"}},"color":{"field":"s","type":"nominal","title":null,"scale":{"domain":["Vaccinated RM","Control RM"],"range":["#ff0000","#0000ff"]}},"shape":{"field":"s","type":"nominal","title":null,"scale":{"domain":["Vaccinated RM","Control RM"],"range":["circle","triangle-up"]}}}},
  {"data":{"values":[{"a":1}]},"mark":{"type":"text","text":"V3","fontSize":24,"align":"left","baseline":"alphabetic"},"encoding":{"x":{"datum":1.53},"y":{"datum":144000}}},
  {"data":{"values":[{"a":1}]},"mark":{"type":"rule","strokeWidth":1.5},"encoding":{"x":{"datum":1.4},"x2":{"datum":6.97},"y":{"datum":102000}}}
 ]},
{"width":151,"height":111,
 "layer":[
  {"data":{"name":"d"},"transform":[{"filter":"datum.p=='UV4'"}],"mark":{"type":"line","strokeWidth":1.5},"encoding":{"x":{"field":"w","type":"quantitative","title":null,"scale":{"domain":[0,26.5],"nice":false,"zero":false},"axis":{"values":[0,4,8,12,16,20,24],"tickCount":20,"labelOverlap":false}},"y":{"field":"v","type":"quantitative","title":null,"scale":{"type":"log","domain":[100,1000000],"nice":false,"range":[111,16]},"axis":{"values":[100,10000,1000000],"tickCount":20,"labelOverlap":false,"labelExpr":"datum.value<500?'10²':datum.value<500000?'10⁴':'10⁶'"}},"color":{"field":"s","type":"nominal","title":null,"scale":{"domain":["Vaccinated RM","Control RM"],"range":["#ff0000","#0000ff"]}}}},
  {"data":{"name":"d"},"transform":[{"filter":"datum.p=='UV4'"}],"mark":{"type":"point","filled":true,"size":70,"opacity":1},"encoding":{"x":{"field":"w","type":"quantitative","title":null,"scale":{"domain":[0,26.5],"nice":false,"zero":false},"axis":{"values":[0,4,8,12,16,20,24],"tickCount":20,"labelOverlap":false}},"y":{"field":"v","type":"quantitative","title":null,"scale":{"type":"log","domain":[100,1000000],"nice":false,"range":[111,16]},"axis":{"values":[100,10000,1000000],"tickCount":20,"labelOverlap":false,"labelExpr":"datum.value<500?'10²':datum.value<500000?'10⁴':'10⁶'"}},"color":{"field":"s","type":"nominal","title":null,"scale":{"domain":["Vaccinated RM","Control RM"],"range":["#ff0000","#0000ff"]}},"shape":{"field":"s","type":"nominal","title":null,"scale":{"domain":["Vaccinated RM","Control RM"],"range":["circle","triangle-up"]}}}},
  {"data":{"values":[{"a":1}]},"mark":{"type":"text","text":"V4","fontSize":24,"align":"left","baseline":"alphabetic"},"encoding":{"x":{"datum":1.53},"y":{"datum":144000}}},
  {"data":{"values":[{"a":1}]},"mark":{"type":"rule","strokeWidth":1.5},"encoding":{"x":{"datum":1.4},"x2":{"datum":6.97},"y":{"datum":102000}}}
 ]},
{"width":151,"height":96,
 "layer":[
  {"data":{"name":"d"},"transform":[{"filter":"datum.p=='UC1'"}],"mark":{"type":"line","strokeWidth":1.5},"encoding":{"x":{"field":"w","type":"quantitative","title":null,"scale":{"domain":[0,26.5],"nice":false,"zero":false},"axis":{"values":[0,4,8,12,16,20,24],"tickCount":20,"labelOverlap":false}},"y":{"field":"v","type":"quantitative","title":null,"scale":{"type":"log","domain":[100,1000000],"nice":false,"range":[96,1]},"axis":{"values":[100,10000,1000000],"tickCount":20,"labelOverlap":false,"labelExpr":"datum.value<500?'10²':datum.value<500000?'10⁴':'10⁶'"}},"color":{"field":"s","type":"nominal","title":null,"scale":{"domain":["Vaccinated RM","Control RM"],"range":["#ff0000","#0000ff"]}}}},
  {"data":{"name":"d"},"transform":[{"filter":"datum.p=='UC1'"}],"mark":{"type":"point","filled":true,"size":70,"opacity":1},"encoding":{"x":{"field":"w","type":"quantitative","title":null,"scale":{"domain":[0,26.5],"nice":false,"zero":false},"axis":{"values":[0,4,8,12,16,20,24],"tickCount":20,"labelOverlap":false}},"y":{"field":"v","type":"quantitative","title":null,"scale":{"type":"log","domain":[100,1000000],"nice":false,"range":[96,1]},"axis":{"values":[100,10000,1000000],"tickCount":20,"labelOverlap":false,"labelExpr":"datum.value<500?'10²':datum.value<500000?'10⁴':'10⁶'"}},"color":{"field":"s","type":"nominal","title":null,"scale":{"domain":["Vaccinated RM","Control RM"],"range":["#ff0000","#0000ff"]}},"shape":{"field":"s","type":"nominal","title":null,"scale":{"domain":["Vaccinated RM","Control RM"],"range":["circle","triangle-up"]}}}},
  {"data":{"values":[{"a":1}]},"mark":{"type":"text","text":"C1","fontSize":24,"align":"left","baseline":"alphabetic"},"encoding":{"x":{"datum":1.53},"y":{"datum":144000}}},
  {"data":{"values":[{"a":1}]},"mark":{"type":"rule","strokeWidth":1.5},"encoding":{"x":{"datum":1.4},"x2":{"datum":6.97},"y":{"datum":102000}}},
  {"data":{"values":[{"a":1}]},"mark":{"type":"text","text":"Control","fontSize":24,"align":"center","baseline":"middle"},"encoding":{"x":{"datum":-20.18},"y":{"datum":7850}}},
  {"data":{"values":[{"a":1}]},"mark":{"type":"rule","strokeWidth":2},"encoding":{"x":{"datum":-0.35},"x2":{"datum":37.2},"y":{"datum":1.4}}},
  {"data":{"values":[{"a":1}]},"mark":{"type":"text","text":"Weeks post challenge","fontSize":25.5,"align":"center","baseline":"middle"},"encoding":{"x":{"datum":61.4},"y":{"datum":1.4}}},
  {"data":{"values":[{"a":1}]},"mark":{"type":"rule","strokeWidth":2},"encoding":{"x":{"datum":85.5},"x2":{"datum":118.3},"y":{"datum":1.4}}},
  {"data":{"values":[{"a":1}]},"mark":{"type":"point","shape":"M1,0L-1,-0.75L-1,0.75Z","filled":true,"color":"#000","opacity":1,"size":1156},"encoding":{"x":{"datum":120.7},"y":{"datum":1.4}}}
 ]},
{"width":151,"height":96,
 "layer":[
  {"data":{"name":"d"},"transform":[{"filter":"datum.p=='UC2'"}],"mark":{"type":"line","strokeWidth":1.5},"encoding":{"x":{"field":"w","type":"quantitative","title":null,"scale":{"domain":[0,26.5],"nice":false,"zero":false},"axis":{"values":[0,4,8,12,16,20,24],"tickCount":20,"labelOverlap":false}},"y":{"field":"v","type":"quantitative","title":null,"scale":{"type":"log","domain":[100,1000000],"nice":false,"range":[96,1]},"axis":{"values":[100,10000,1000000],"tickCount":20,"labelOverlap":false,"labelExpr":"datum.value<500?'10²':datum.value<500000?'10⁴':'10⁶'"}},"color":{"field":"s","type":"nominal","title":null,"scale":{"domain":["Vaccinated RM","Control RM"],"range":["#ff0000","#0000ff"]}}}},
  {"data":{"name":"d"},"transform":[{"filter":"datum.p=='UC2'"}],"mark":{"type":"point","filled":true,"size":70,"opacity":1},"encoding":{"x":{"field":"w","type":"quantitative","title":null,"scale":{"domain":[0,26.5],"nice":false,"zero":false},"axis":{"values":[0,4,8,12,16,20,24],"tickCount":20,"labelOverlap":false}},"y":{"field":"v","type":"quantitative","title":null,"scale":{"type":"log","domain":[100,1000000],"nice":false,"range":[96,1]},"axis":{"values":[100,10000,1000000],"tickCount":20,"labelOverlap":false,"labelExpr":"datum.value<500?'10²':datum.value<500000?'10⁴':'10⁶'"}},"color":{"field":"s","type":"nominal","title":null,"scale":{"domain":["Vaccinated RM","Control RM"],"range":["#ff0000","#0000ff"]}},"shape":{"field":"s","type":"nominal","title":null,"scale":{"domain":["Vaccinated RM","Control RM"],"range":["circle","triangle-up"]}}}},
  {"data":{"values":[{"a":1}]},"mark":{"type":"text","text":"C2","fontSize":24,"align":"left","baseline":"alphabetic"},"encoding":{"x":{"datum":1.53},"y":{"datum":144000}}},
  {"data":{"values":[{"a":1}]},"mark":{"type":"rule","strokeWidth":1.5},"encoding":{"x":{"datum":1.4},"x2":{"datum":6.97},"y":{"datum":102000}}}
 ]},
{"width":151,"height":96,
 "layer":[
  {"data":{"name":"d"},"transform":[{"filter":"datum.p=='UC3'"}],"mark":{"type":"line","strokeWidth":1.5},"encoding":{"x":{"field":"w","type":"quantitative","title":null,"scale":{"domain":[0,26.5],"nice":false,"zero":false},"axis":{"values":[0,4,8,12,16,20,24],"tickCount":20,"labelOverlap":false}},"y":{"field":"v","type":"quantitative","title":null,"scale":{"type":"log","domain":[100,1000000],"nice":false,"range":[96,1]},"axis":{"values":[100,10000,1000000],"tickCount":20,"labelOverlap":false,"labelExpr":"datum.value<500?'10²':datum.value<500000?'10⁴':'10⁶'"}},"color":{"field":"s","type":"nominal","title":null,"scale":{"domain":["Vaccinated RM","Control RM"],"range":["#ff0000","#0000ff"]}}}},
  {"data":{"name":"d"},"transform":[{"filter":"datum.p=='UC3'"}],"mark":{"type":"point","filled":true,"size":70,"opacity":1},"encoding":{"x":{"field":"w","type":"quantitative","title":null,"scale":{"domain":[0,26.5],"nice":false,"zero":false},"axis":{"values":[0,4,8,12,16,20,24],"tickCount":20,"labelOverlap":false}},"y":{"field":"v","type":"quantitative","title":null,"scale":{"type":"log","domain":[100,1000000],"nice":false,"range":[96,1]},"axis":{"values":[100,10000,1000000],"tickCount":20,"labelOverlap":false,"labelExpr":"datum.value<500?'10²':datum.value<500000?'10⁴':'10⁶'"}},"color":{"field":"s","type":"nominal","title":null,"scale":{"domain":["Vaccinated RM","Control RM"],"range":["#ff0000","#0000ff"]}},"shape":{"field":"s","type":"nominal","title":null,"scale":{"domain":["Vaccinated RM","Control RM"],"range":["circle","triangle-up"]}}}},
  {"data":{"values":[{"a":1}]},"mark":{"type":"text","text":"C3","fontSize":24,"align":"left","baseline":"alphabetic"},"encoding":{"x":{"datum":1.53},"y":{"datum":144000}}},
  {"data":{"values":[{"a":1}]},"mark":{"type":"rule","strokeWidth":1.5},"encoding":{"x":{"datum":1.4},"x2":{"datum":6.97},"y":{"datum":102000}}}
 ]},
{"width":151,"height":96,
 "layer":[
  {"data":{"name":"d"},"transform":[{"filter":"datum.p=='UC4'"}],"mark":{"type":"line","strokeWidth":1.5},"encoding":{"x":{"field":"w","type":"quantitative","title":null,"scale":{"domain":[0,26.5],"nice":false,"zero":false},"axis":{"values":[0,4,8,12,16,20,24],"tickCount":20,"labelOverlap":false}},"y":{"field":"v","type":"quantitative","title":null,"scale":{"type":"log","domain":[100,1000000],"nice":false,"range":[96,1]},"axis":{"values":[100,10000,1000000],"tickCount":20,"labelOverlap":false,"labelExpr":"datum.value<500?'10²':datum.value<500000?'10⁴':'10⁶'"}},"color":{"field":"s","type":"nominal","title":null,"scale":{"domain":["Vaccinated RM","Control RM"],"range":["#ff0000","#0000ff"]}}}},
  {"data":{"name":"d"},"transform":[{"filter":"datum.p=='UC4'"}],"mark":{"type":"point","filled":true,"size":70,"opacity":1},"encoding":{"x":{"field":"w","type":"quantitative","title":null,"scale":{"domain":[0,26.5],"nice":false,"zero":false},"axis":{"values":[0,4,8,12,16,20,24],"tickCount":20,"labelOverlap":false}},"y":{"field":"v","type":"quantitative","title":null,"scale":{"type":"log","domain":[100,1000000],"nice":false,"range":[96,1]},"axis":{"values":[100,10000,1000000],"tickCount":20,"labelOverlap":false,"labelExpr":"datum.value<500?'10²':datum.value<500000?'10⁴':'10⁶'"}},"color":{"field":"s","type":"nominal","title":null,"scale":{"domain":["Vaccinated RM","Control RM"],"range":["#ff0000","#0000ff"]}},"shape":{"field":"s","type":"nominal","title":null,"scale":{"domain":["Vaccinated RM","Control RM"],"range":["circle","triangle-up"]}}}},
  {"data":{"values":[{"a":1}]},"mark":{"type":"text","text":"C4","fontSize":24,"align":"left","baseline":"alphabetic"},"encoding":{"x":{"datum":1.53},"y":{"datum":144000}}},
  {"data":{"values":[{"a":1}]},"mark":{"type":"rule","strokeWidth":1.5},"encoding":{"x":{"datum":1.4},"x2":{"datum":6.97},"y":{"datum":102000}}}
 ]}
],
"config":{
 "font":"Liberation Sans",
 "view":{"stroke":null},
 "axis":{"grid":false,"domainColor":"#000","domainWidth":2,"tickColor":"#000","tickWidth":1.5,"tickSize":4,"labelColor":"#000","labelFontSize":16,"labelFont":"Liberation Sans","labelFlush":false,"labelOverlap":false,"labelSeparation":-10,"labelPadding":1},
 "text":{"color":"#000","font":"Liberation Sans"},
 "rule":{"color":"#000"},
 "legend":{"orient":"none","legendX":-12,"legendY":573,"direction":"horizontal","labelFontSize":24,"labelFont":"Liberation Sans","labelColor":"#000","labelLimit":300,"symbolSize":330,"symbolStrokeWidth":0,"symbolOpacity":1,"labelOffset":12,"columnPadding":51}
}
}
